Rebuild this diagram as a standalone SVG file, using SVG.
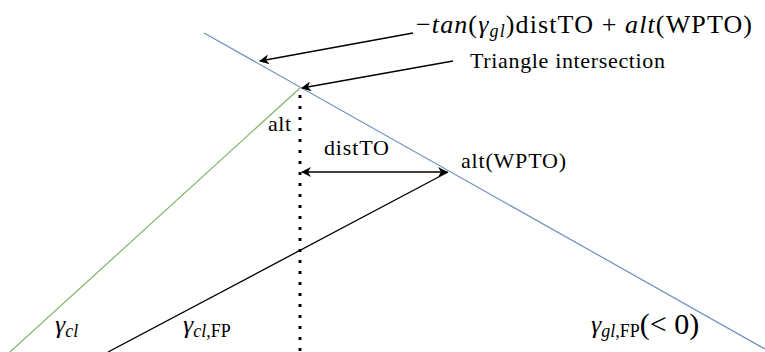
<svg xmlns="http://www.w3.org/2000/svg" width="765" height="352" viewBox="0 0 765 352">
  <style>
    text { font-family: "Liberation Serif", "Times New Roman", serif; fill: #000; }
    .lbl { font-size: 22px; }
    .math { font-size: 26px; }
    .it { font-style: italic; }
    .sub { font-size: 18px; font-style: italic; }
    .subr { font-size: 18px; }
    .big { font-size: 30px; }
    .conn { stroke: #000; stroke-width: 1.3; fill: none; }
  </style>
  <defs>
    <marker id="arrow" viewBox="0 0 10 10" refX="9" refY="5" markerWidth="10" markerHeight="10" markerUnits="userSpaceOnUse" orient="auto-start-reverse">
      <path d="M0,0 L10,5 L0,10 L3,5 Z" fill="#000"/>
    </marker>
  </defs>

  <g id="glide-path">
    <line x1="204" y1="33" x2="765" y2="349" stroke="#6c8ebf" stroke-width="1.2"/>
  </g>
  <g id="climb-path">
    <line x1="300" y1="88" x2="10" y2="352" stroke="#82b366" stroke-width="1.2"/>
  </g>
  <g id="altitude-axis">
    <line x1="300" y1="95" x2="300" y2="352" stroke="#000" stroke-width="3" stroke-dasharray="3 8"/>
  </g>

  <g id="connectors">
    <line class="conn" x1="413" y1="33" x2="260" y2="61" marker-end="url(#arrow)"/>
    <line class="conn" x1="453" y1="61" x2="302" y2="88" marker-end="url(#arrow)"/>
    <line class="conn" x1="302" y1="172" x2="447" y2="172" marker-start="url(#arrow)" marker-end="url(#arrow)"/>
    <line class="conn" x1="108" y1="352" x2="448" y2="172"/>
  </g>

  <g id="label-glide-equation">
    <text class="math" x="416" y="33" textLength="336" lengthAdjust="spacing">−<tspan class="it">tan</tspan>(<tspan class="it">γ</tspan><tspan class="sub" dy="4">gl</tspan><tspan dy="-4">)distTO + </tspan><tspan class="it">alt</tspan>(WPTO)</text>
  </g>
  <g id="label-intersection">
    <text class="lbl" x="470" y="68" textLength="195" lengthAdjust="spacing">Triangle intersection</text>
  </g>
  <g id="label-alt">
    <text class="lbl" x="268" y="131" textLength="23" lengthAdjust="spacing">alt</text>
  </g>
  <g id="label-distTO">
    <text class="lbl" x="324" y="155" textLength="65" lengthAdjust="spacing">distTO</text>
  </g>
  <g id="label-wpto">
    <text class="lbl" x="461" y="168" textLength="105" lengthAdjust="spacing">alt(WPTO)</text>
  </g>
  <g id="label-gamma-cl">
    <text class="math" x="55" y="333"><tspan class="it">γ</tspan><tspan class="sub" dy="4">cl</tspan></text>
  </g>
  <g id="label-gamma-cl-fp">
    <text class="math" x="183" y="333"><tspan class="it">γ</tspan><tspan class="sub" dy="4">cl</tspan><tspan class="subr">,FP</tspan></text>
  </g>
  <g id="label-gamma-gl-fp">
    <text class="math" x="591" y="333"><tspan class="it">γ</tspan><tspan class="sub" dy="4">gl</tspan><tspan class="subr">,FP</tspan><tspan class="big" dy="-3">(&lt; 0)</tspan></text>
  </g>
</svg>
